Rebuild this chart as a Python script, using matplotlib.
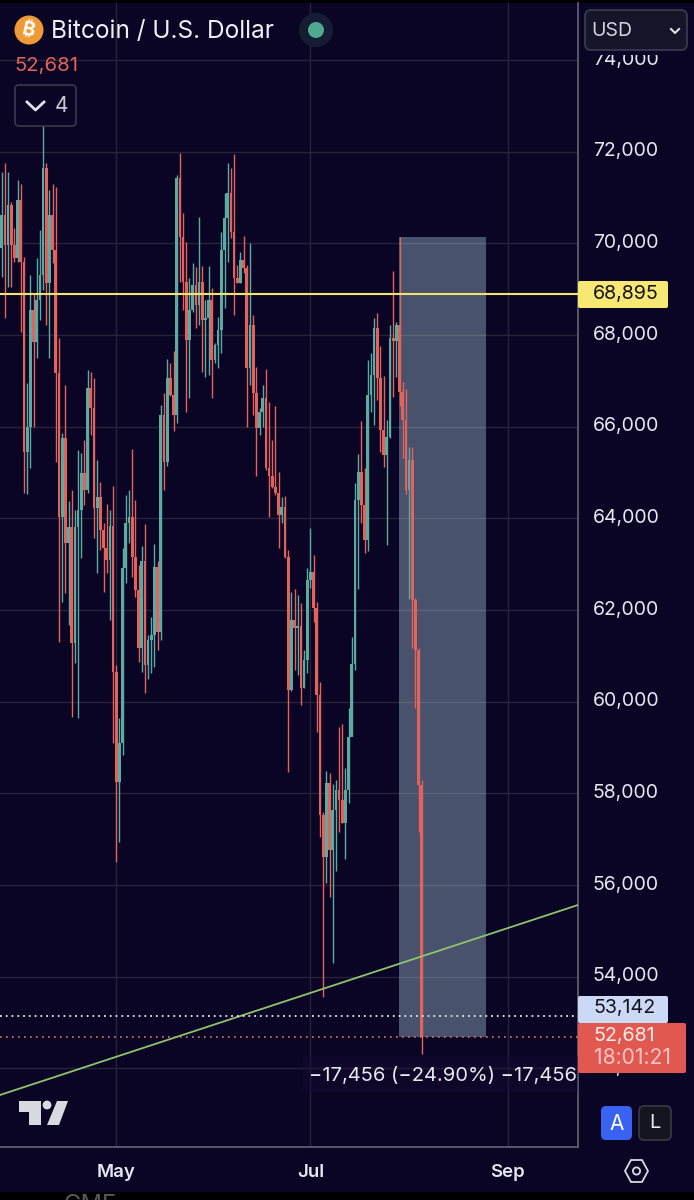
import matplotlib
matplotlib.use("Agg")
import matplotlib.pyplot as plt
from matplotlib.patches import Rectangle, FancyBboxPatch, Circle, Polygon
from matplotlib.transforms import ScaledTranslation
from matplotlib import font_manager as fm
from matplotlib.ft2font import FT2Font

plt.rcParams['font.family'] = ['Inter', 'DejaVu Sans']

first_open = 69900
closes = [70610,69960,70830,69960,69680,70940,69590,65440,65990,68540,67840,68760,69310,71640,69130,70610,69850,67170,64030,65750,
63460,63810,61280,63810,64180,64980,64610,66840,66400,64220,64460,63740,63350,63090,63830,60640,58240,59090,62910,63890,
64030,63150,62430,61170,63060,60800,61340,61450,62930,61520,66250,65220,67060,66690,66250,71420,70130,69150,67890,68540,
69090,68650,69150,68320,68370,68760,67450,67780,68100,69850,70550,71090,70240,69240,69130,69630,69460,67280,68210,66730,
65970,66320,66620,65090,64920,64680,64550,64070,64240,63150,60250,61780,61600,61650,60290,60900,62650,62820,62040,60140,
57520,56610,58220,56760,57630,58070,57850,57350,58070,59220,60820,64400,65010,64290,63520,66690,67120,68150,67060,65920,
65380,65770,67930,67870,68210,66750,66140,64610,65270,62210,61120,58180,52681]
highs = [71550,71750,71550,70900,70330,71380,71290,69700,66950,69310,68910,69680,70290,72730,71750,71160,71290,71230,67930,65860,
66900,64370,64610,64180,65490,65420,65700,67230,67190,67060,65270,64790,63890,64310,64180,64700,60800,59640,63350,64500,
64610,65510,64400,62980,63390,63870,61450,61840,63440,63060,66470,66730,67470,67390,67650,71490,71970,70660,70030,69240,
69570,69480,70570,69500,68760,69500,69020,67820,68390,70240,71090,71750,71640,71950,69520,69810,70160,69520,70000,68430,
67300,66400,66900,67250,66530,65700,66450,65010,64460,64480,63300,62390,62450,62320,62150,61120,62910,63780,63200,62170,
60420,57580,58480,58440,58200,58290,59440,59510,58550,59860,61410,64770,65400,66120,65090,67450,67600,68370,68480,67760,
67100,66140,68210,69390,68280,70137,66970,66820,65550,65550,62250,61160,58290]
lows = [69260,68370,69040,69040,69590,69590,68060,64550,64530,65090,65990,67490,68320,68980,68210,67490,69570,65220,61300,62170,
62370,61670,59660,60840,59640,63130,64290,64550,65810,63570,62800,63300,62390,62800,61780,59090,56500,56930,58830,62580,
63460,62720,62280,60860,60640,60180,60490,60620,60750,61120,61340,64610,65140,66670,65900,66080,69150,68540,66320,66620,
68500,68150,68210,67190,67080,67120,66620,67390,67280,67600,68590,69590,70110,68430,69130,69130,69350,65990,66900,66250,
64920,65810,65990,65050,64030,64660,64500,63350,63890,63130,58460,60230,60690,60580,59920,60290,60620,62480,61730,59330,
57040,53550,56040,55730,54290,56300,57150,57350,56560,57790,59250,60690,62450,63890,63240,63280,66320,66030,66580,65440,
65120,63410,65750,66640,67080,66450,65310,64530,62240,61170,59860,57150,52310]

yticks = [52000,54000,56000,58000,60000,62000,64000,66000,68000,70000,72000,74000]
month_pos = [36, 97, 159]
month_labels = ['May', 'Jul', 'Sep']
resistance = 68895
level_white = 53142
last_price = 52681
range_idx = [124.8, 152.1]
range_price = [52681, 70137]
trend_idx = [-0.53, 181.06]
trend_price = [51415, 55560]

BG = '#0A0524'
UP = '#5BABA2'
DOWN = '#E2635B'
GRID = '#27233A'
AXIS = '#5F5D74'
TXT = '#E6E6F0'

fig = plt.figure(figsize=(6.94, 12), dpi=100, facecolor='black')
bg = fig.add_axes([0, 8/1200, 1, 1189/1200], zorder=0)
bg.set_facecolor(BG); bg.set_xticks([]); bg.set_yticks([])
for s in bg.spines.values():
    s.set_visible(False)

ax = fig.add_axes([0, 53/1200, 578/694, 1144/1200], zorder=1)
ax.patch.set_alpha(0)
ax.set_xlim(-0.534, 181.06)
ax.set_ylim(50280, 75240)
for s in ('top', 'left'):
    ax.spines[s].set_visible(False)
for s in ('right', 'bottom'):
    ax.spines[s].set_color(AXIS)
    ax.spines[s].set_linewidth(1.3)
ax.yaxis.tick_right()
ax.set_yticks(yticks)
ax.set_yticklabels([f'{v:,}' for v in yticks], color=TXT, fontsize=14.0)
ax.set_xticks(month_pos)
ax.set_xticklabels(month_labels, color=TXT, fontsize=13.4, fontweight='semibold')
ax.tick_params(axis='y', length=0, pad=10.8)
ax.tick_params(axis='x', length=0, pad=12)
ax.grid(True, color=GRID, lw=1.0, zorder=0)
ax.set_axisbelow(True)
lift = ScaledTranslation(0, 1.6/72, fig.dpi_scale_trans)
for lab in ax.get_yticklabels():
    lab.set_transform(lab.get_transform() + lift)

opens = [first_open] + closes[:-1]
idx = list(range(len(closes)))
colors = [UP if c >= o else DOWN for o, c in zip(opens, closes)]
ax.add_patch(Rectangle((range_idx[0], range_price[0]), range_idx[1] - range_idx[0],
                       range_price[1] - range_price[0], fc='#C8F0FF', alpha=0.33, lw=0, zorder=1.5))
ax.vlines(idx, lows, highs, colors=colors, lw=1.0, zorder=2)
ax.bar(idx, [abs(c - o) for o, c in zip(opens, closes)],
       bottom=[min(o, c) for o, c in zip(opens, closes)],
       width=0.85, color=colors, lw=0, zorder=2.1)
ax.axhline(resistance, color='#F2E36B', lw=1.5, zorder=4)
ax.plot(trend_idx, trend_price, color='#8FC46E', lw=1.3, zorder=4)
ax.axhline(level_white, color='#E8E8F0', lw=1.3, ls=(0, (1, 2.2)), zorder=4)
ax.axhline(last_price, color='#E8706A', lw=1.2, ls=(0, (1, 2.6)), zorder=4)

# overlay in screen pixels for the interface furniture
ui = fig.add_axes([0, 0, 1, 1], zorder=5)
ui.set_xlim(0, 694); ui.set_ylim(1200, 0); ui.axis('off'); ui.patch.set_alpha(0)

def box(x0, y0, x1, y1, fc, ec='none', r=4, lw=1.2, z=2):
    ui.add_patch(FancyBboxPatch((x0 + r, y0 + r), x1 - x0 - 2*r, y1 - y0 - 2*r,
                 boxstyle=f'round,pad={r},rounding_size={r}', fc=fc, ec=ec, lw=lw, zorder=z))

def t(x, y, s, color=TXT, size=14.0, ha='left', weight='normal', z=5):
    ui.text(x, y + 1.5, s, color=color, fontsize=size, ha=ha, va='center', fontweight=weight, zorder=z)

def family_with(ch):
    for name in ['Inter', 'Noto Sans', 'Roboto', 'Open Sans', 'Lato', 'Liberation Sans', 'DejaVu Sans']:
        try:
            path = fm.findfont(name, fallback_to_default=False)
            if FT2Font(path).get_char_index(ord(ch)):
                return name
        except Exception:
            pass
    return None

# header
ui.add_patch(Circle((29, 30), 14.5, fc='#EE9B37', ec='none'))
btc_family = family_with('₿')
if btc_family:
    ui.text(29, 30, '₿', color='white', fontsize=14, ha='center', va='center', fontweight='bold',
            family=btc_family, rotation=-12)
else:
    ui.text(29, 30, 'B', color='white', fontsize=13, ha='center', va='center', fontweight='bold', rotation=-12)
t(51, 30, 'Bitcoin / U.S. Dollar', color='#EFEFF5', size=17.6)
ui.add_patch(Circle((316, 30), 17, fc='#161C33', ec='none'))
ui.add_patch(Circle((316, 30), 8, fc='#4FA98F', ec='none'))
t(14, 65, '52,681', color=DOWN, size=14.6)
box(15, 85, 76, 126, fc=BG, ec='#3A394C')
ui.plot([27, 35.5, 44], [102, 110, 102], color='#E0E0EA', lw=2.0, zorder=5)
t(55, 105, '4', color='#C9C9D6', size=15)

# currency box, which also hides the top of the highest tick label
ui.add_patch(Rectangle((582, 48), 108, 7, fc=BG, lw=0, zorder=2.5))
box(585, 10, 687, 50, fc='#15152A', ec='#3C3C52', r=6, z=3)
t(591, 29, 'USD', color='#D5D5E0', size=14)
ui.plot([671, 675, 679], [29, 33, 29], color='#E0E0EA', lw=1.5, zorder=5)

# price tags
box(578, 281, 668, 308, fc='#F6E873', r=2)
t(593, 293, '68,895', color='#14141E', size=14.2)
box(578, 996, 668, 1023, fc='#CBD9F6', r=2)
t(593, 1007, '53,142', color='#14141E', size=14.2)
box(578, 1023, 686, 1073, fc='#E0584F', r=2, z=3)
t(593, 1034, '52,681', color='#FBEDEC', size=14.2)
t(594, 1057, '18:01:21', color='#F7C6C2', size=15.2)

# measuring label
ui.add_patch(Rectangle((302, 1056), 276, 36, fc='#1B0A34', alpha=0.4, lw=0, zorder=1))
t(309, 1074, '−17,456 (−24.90%) −17,456', color='#E8E8F0', size=14.5)

# A / L buttons
box(601, 1106, 632, 1140, fc='#3A62F2', r=5)
t(616.5, 1122, 'A', color='white', size=15, ha='center')
box(639, 1106, 671, 1140, fc='#15151F', ec='#3A3A46', r=5)
t(655, 1122, 'L', color='#E6E6F0', size=14.5, ha='center')

# settings hexagon
ui.add_patch(Polygon([(625, 1171), (631, 1160), (642, 1160), (648, 1171), (642, 1182), (631, 1182)],
                     closed=True, fc='none', ec='#DADAE4', lw=1.3))
ui.add_patch(Circle((636.5, 1171), 3.6, fc='none', ec='#DADAE4', lw=1.3))

# logo
logo = '#D9DAE0'
ui.add_patch(Polygon([(19, 1101), (41, 1101), (41, 1125), (29, 1125), (29, 1112), (19, 1112)], closed=True, fc=logo, ec='none'))
ui.add_patch(Circle((47, 1105), 4.4, fc=logo, ec='none'))
ui.add_patch(Polygon([(57, 1101), (68, 1101), (59, 1125), (47, 1125)], closed=True, fc=logo, ec='none'))

# clipped text beneath the panel
ui.text(90, 1194, 'GME', color='#5A5A5A', fontsize=17, ha='center', va='top', clip_on=True)

fig.savefig('out.png', dpi=100, facecolor='black')
